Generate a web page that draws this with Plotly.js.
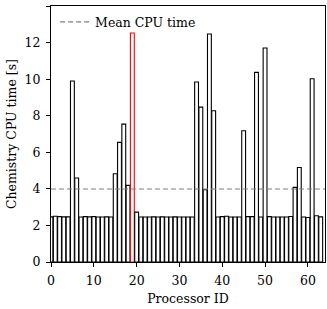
<!DOCTYPE html>
<html>
<head>
<meta charset="utf-8">
<script src="https://cdn.plot.ly/plotly-3.0.1.min.js"></script>
<style>html,body{margin:0;padding:0;background:#fff}#chart{width:327px;height:309px}</style>
</head>
<body>
<div id="chart"></div>
<script>
// Processor IDs 0..63
const processorIds = [
  0,1,2,3,4,5,6,7,8,9,10,11,12,13,14,15,16,17,18,19,20,21,22,23,24,25,26,27,28,29,30,31,
  32,33,34,35,36,37,38,39,40,41,42,43,44,45,46,47,48,49,50,51,52,53,54,55,56,57,58,59,60,61,62,63
];
// Chemistry CPU time [s] per processor
const cpuTimes = [
  2.47,2.50,2.48,2.47,2.47,9.90,4.59,2.46,2.48,2.47,2.48,2.46,2.46,2.47,2.46,4.83,
  6.54,7.54,4.19,12.52,2.73,2.46,2.46,2.46,2.47,2.46,2.47,2.46,2.46,2.47,2.46,2.46,
  2.46,2.46,9.84,8.47,3.95,12.47,8.27,2.46,2.48,2.50,2.46,2.46,2.46,7.18,2.48,2.48,
  10.37,2.46,11.70,2.48,2.46,2.46,2.46,2.46,2.49,4.08,5.17,2.46,2.43,10.02,2.53,2.47
];
const slowestId = 19;
const legendLabel = "Mean CPU time";
const xTickVals = [0,10,20,30,40,50,60];
const yTickVals = [0,2,4,6,8,10,12,14];

const meanCpu = cpuTimes.reduce((a,b)=>a+b,0)/cpuTimes.length;
const edgeColors = processorIds.map(id => id === slowestId ? "#ff0000" : "#000000");

const font = {family: "DejaVu Serif, serif", size: 12.5, color: "#000"};

const traces = [
  {
    type: "bar",
    x: processorIds,
    y: cpuTimes,
    width: 0.9,
    marker: {color: "#ffffff", line: {color: edgeColors, width: 1.1}},
    showlegend: false,
    hoverinfo: "skip"
  },
  {
    type: "scatter",
    mode: "lines",
    x: [0, 64],
    y: [meanCpu, meanCpu],
    name: legendLabel,
    line: {color: "#808080", width: 1.2, dash: "5px,3px"}
  }
];

const axisCommon = {
  showline: true, linecolor: "#000", linewidth: 1, mirror: true,
  ticks: "outside", ticklen: 4, tickwidth: 1, tickcolor: "#000",
  showgrid: false, zeroline: false, tickfont: font
};

const layout = {
  width: 327, height: 309,
  margin: {l: 51, r: 2, t: 6, b: 47},
  paper_bgcolor: "#fff", plot_bgcolor: "#fff",
  font: font,
  bargap: 0,
  xaxis: Object.assign({}, axisCommon, {
    range: [0, 64], tickvals: xTickVals, ticklabelstandoff: 3,
    title: {text: "Processor ID", font: font, standoff: 7}
  }),
  yaxis: Object.assign({}, axisCommon, {
    range: [0, 14], tickvals: yTickVals, ticklabelstandoff: 3,
    title: {text: "Chemistry CPU time [s]", font: font, standoff: 5}
  }),
  legend: {
    x: 0.015, y: 0.995, xanchor: "left", yanchor: "top",
    bgcolor: "rgba(255,255,255,0)", borderwidth: 0, font: font
  },
  showlegend: true
};

Plotly.newPlot("chart", traces, layout, {staticPlot: true, displayModeBar: false});
</script>
</body>
</html>
